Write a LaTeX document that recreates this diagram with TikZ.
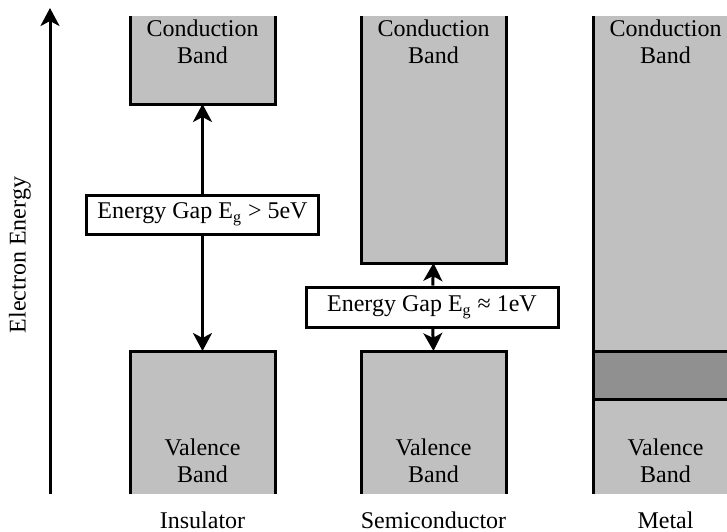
\documentclass[tikz,border=0pt]{standalone}
\usepackage{fontspec}
\setmainfont{Liberation Serif}
\usepackage{xcolor}
\usetikzlibrary{arrows.meta}
\definecolor{bandgray}{RGB}{192,192,192}
\definecolor{overlapgray}{RGB}{144,144,144}
\tikzset{
  bandedge/.style={line width=1.5pt},
  bandlabel/.style={align=center,font=\fontsize{12}{13.5}\selectfont},
  gapbox/.style={draw,fill=white,line width=1.5pt,inner sep=0pt,font=\fontsize{12}{14}\selectfont},
  energyarrow/.style={line width=1.5pt,-{Stealth[length=9pt,width=9.5pt,inset=2.5pt]}}
}

\begin{document}
\begin{tikzpicture}[x=0.5pt,y=-0.5pt]
\useasboundingbox (0,0) rectangle (727,531);
\clip (0,0) rectangle (727,531);

\coordinate (axbot) at (50,494);
\coordinate (axtop) at (50,8);
\draw [energyarrow] (axbot) -- (axtop);
\node [rotate=90,font=\fontsize{12}{14}\selectfont] (axlabel) at (20,255) {Electron Energy};

% insulator
\fill [bandgray] (130,16) rectangle (275,104);
\draw [bandedge] (130,16) -- (130,104) -- (275,104) -- (275,16);
\fill [bandgray] (130,351) rectangle (275,494);
\draw [bandedge] (130,494) -- (130,351) -- (275,351) -- (275,494);
\coordinate (icbot) at (202.5,104);
\coordinate (ivtop) at (202.5,351);
\node [bandlabel] (icl) at (202.5,42) {Conduction\\Band};
\node [bandlabel] (ivl) at (202.5,461) {Valence\\Band};
\node [gapbox,minimum width=116pt,minimum height=19.5pt] (gapI) at (202.5,214.5) {Energy Gap E\textsubscript{g} > 5eV};
\draw [energyarrow] (gapI) -- (icbot);
\draw [energyarrow] (gapI) -- (ivtop);
\node [bandlabel] (insl) at (202.5,520) {Insulator};

% semiconductor
\fill [bandgray] (361,16) rectangle (506,263);
\draw [bandedge] (361,16) -- (361,263) -- (506,263) -- (506,16);
\fill [bandgray] (361,351) rectangle (506,494);
\draw [bandedge] (361,494) -- (361,351) -- (506,351) -- (506,494);
\coordinate (scbot) at (433.5,263);
\coordinate (svtop) at (433.5,351);
\node [bandlabel] (scl) at (433.5,42) {Conduction\\Band};
\node [bandlabel] (svl) at (433.5,461) {Valence\\Band};
\node [gapbox,minimum width=126pt,minimum height=20pt] (gapS) at (432,307) {Energy Gap E\textsubscript{g} ≈ 1eV};
\draw [energyarrow] (gapS) -- (scbot);
\draw [energyarrow] (gapS) -- (svtop);
\node [bandlabel] (semil) at (433.5,520) {Semiconductor};

% metal
\fill [bandgray] (593,16) rectangle (738,494);
\fill [overlapgray] (593,351) rectangle (738,399);
\draw [bandedge] (593,16) -- (593,494);
\draw [bandedge] (593,351) -- (738,351);
\draw [bandedge] (593,399) -- (738,399);
\node [bandlabel] (mcl) at (665.5,42) {Conduction\\Band};
\node [bandlabel] (mvl) at (665.5,461) {Valence\\Band};
\node [bandlabel] (metl) at (665.5,520) {Metal};
\end{tikzpicture}
\end{document}
